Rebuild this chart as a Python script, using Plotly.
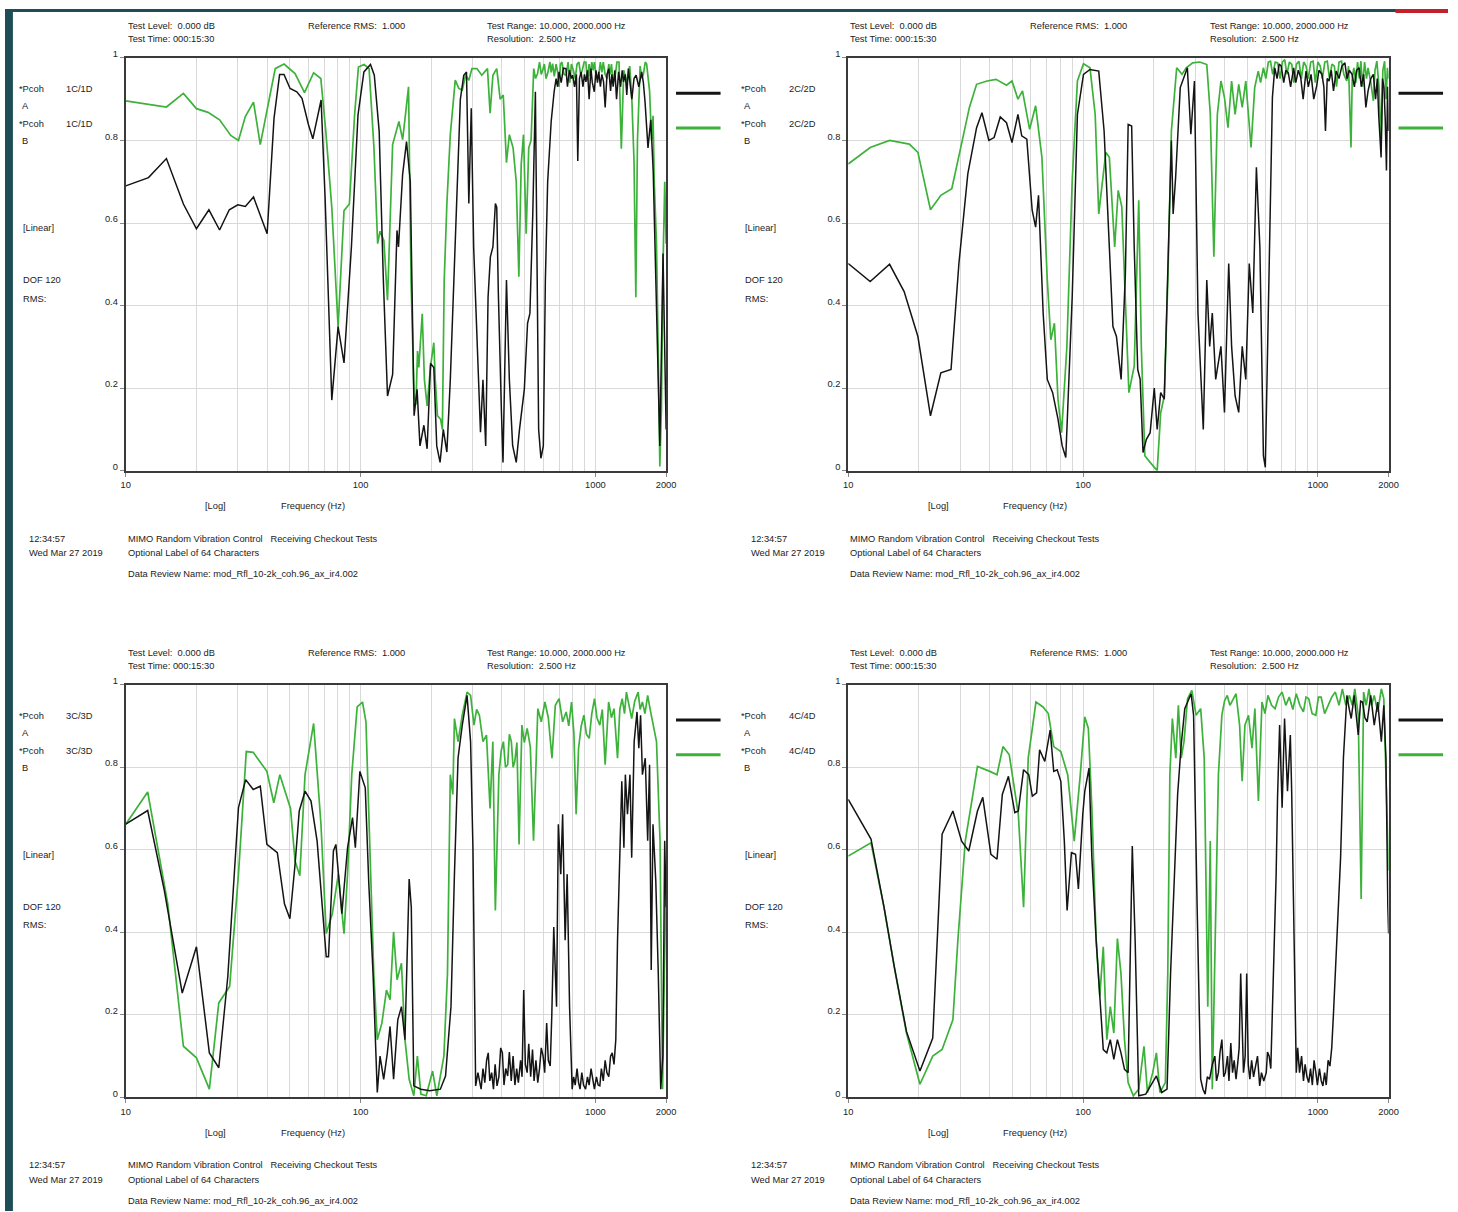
import numpy as np
import plotly.graph_objects as go

W, H = 1458, 1212
FONT = "Liberation Sans, Arial, sans-serif"
FSIZE = 9.3
BLACK = "#141414"
GREEN = "#3db23a"
GRID = "#d9d9d9"

# ---------------- data (frequency Hz, coherence) ----------------
tl_green = [(10,0.896),(14.9,0.881),(17.6,0.914),(20,0.877),(22.4,0.868),(25.1,0.85),(28.0,0.812),(30.2,0.80),
    (32.3,0.858),(35.0,0.893),(37.4,0.79),(40.3,0.882),(43.3,0.974),(47.2,0.985),(52.6,0.962),(57.7,0.916),
    (63.1,0.964),(67.7,0.95),(71.1,0.822),(75.4,0.638),(80.2,0.349),(85.0,0.63),(89.6,0.646),(94.3,0.862),
    (97.9,0.978),(103.5,0.984),(108.7,0.974),(114,0.782),(118.2,0.55),(121,0.58),(125.6,0.558),(130.2,0.413),
    (136.9,0.79),(145.6,0.846),(151,0.802),(154.4,0.85),(160,0.93),(164,0.46),(169,0.18),(172,0.16),(174.8,0.29),
    (177,0.25),(183,0.38),(187,0.22),(192,0.157),(198.6,0.253),(205,0.31),(208,0.22),(212.5,0.133),(219,0.125),
    (223,0.10),(227,0.46),(233,0.646),(241,0.814),(253,0.946),(262,0.926),(271,0.922),(280,0.958),(289,0.946),
    (298,0.974),(313,0.974),(328,0.958),(347,0.974),(356,0.866),(366,0.958),(380,0.974),(393,0.90),(405,0.91),
    (418,0.746),(430,0.814),(446,0.782),(460,0.70),(472,0.47),(483,0.742),(494,0.814),(507,0.574),(520,0.782),
    (532,0.80),(546,0.974),(556,0.95),(567,0.962),(578,0.99),(588,0.96),(596,0.97),(606,0.985),(616,0.95),
    (626,0.962),(640,0.99),(648,0.965),(657,0.986),(668,0.955),(680,0.985),(690,0.966),(700,0.93),(710,0.985),
    (720,0.99),(735,0.96),(750,0.958),(765,0.99),(778,0.94),(790,0.985),(805,0.97),(820,0.95),(835,0.985),
    (850,0.99),(865,0.96),(879,0.97),(895,0.99),(910,0.99),(925,0.945),(940,0.985),(950,0.955),(965,0.99),
    (978,0.97),(990,0.99),(1010,0.95),(1033,0.96),(1050,0.99),(1065,0.965),(1080,0.99),(1100,0.96),(1120,0.95),
    (1140,0.985),(1155,0.96),(1170,0.985),(1190,0.94),(1216,0.96),(1235,0.99),(1260,0.99),(1289,0.78),
    (1320,0.97),(1360,0.94),(1400,0.98),(1429,0.90),(1460,0.75),(1486,0.42),(1510,0.80),(1550,0.98),(1575,0.95),
    (1600,0.96),(1630,0.99),(1652,0.985),(1700,0.92),(1734,0.80),(1760,0.86),(1780,0.70),(1820,0.55),(1850,0.30),
    (1880,0.01),(1910,0.15),(1940,0.50),(1973,0.70),(2000,0.55)]

tl_black = [(10,0.69),(12.5,0.71),(14.9,0.756),(17.6,0.646),(20,0.586),(22.6,0.632),(25.1,0.583),(27.6,0.632),
    (30,0.644),(32.3,0.64),(35.0,0.663),(40,0.574),(42.8,0.854),(45.2,0.96),(47.2,0.96),(50.1,0.926),(53.5,0.918),
    (56.3,0.902),(60,0.838),(62.6,0.804),(67.9,0.898),(70.6,0.662),(75.4,0.171),(80.2,0.349),(85.0,0.261),
    (91.4,0.542),(97.5,0.862),(103.3,0.966),(110.2,0.984),(114.4,0.958),(120,0.822),(125,0.462),(130.2,0.181),
    (136.9,0.233),(142.9,0.582),(145,0.542),(151,0.718),(156.9,0.797),(162.8,0.70),(169,0.133),(174,0.197),
    (179,0.06),(186,0.11),(192,0.053),(198.6,0.26),(205,0.25),(211,0.06),(218,0.02),(225,0.10),(233,0.045),
    (241,0.22),(249,0.46),(258,0.70),(266,0.90),(275,0.958),(282.5,0.966),(289,0.647),(296,0.878),(303,0.542),
    (313,0.30),(324,0.093),(332,0.22),(341,0.06),(349,0.42),(357,0.518),(366,0.542),(375,0.647),(380,0.638),
    (386,0.43),(398,0.14),(404,0.02),(418,0.462),(430,0.221),(444,0.061),(460,0.02),(475,0.10),(498,0.197),
    (514,0.357),(526,0.381),(541,0.622),(555,0.918),(573,0.10),(586,0.03),(600,0.06),(612,0.46),(626,0.70),
    (648,0.846),(667,0.918),(680,0.95),(690,0.93),(700,0.966),(715,0.94),(730,0.975),(749,0.974),(760,0.93),
    (775,0.97),(790,0.95),(800,0.958),(815,0.93),(830,0.96),(841,0.75),(855,0.95),(869,0.966),(885,0.93),
    (898,0.96),(911,0.942),(925,0.97),(940,0.90),(957,0.974),(970,0.94),(989,0.918),(1005,0.97),(1020,0.94),
    (1033,0.966),(1050,0.93),(1065,0.96),(1083,0.942),(1100,0.88),(1120,0.96),(1140,0.974),(1160,0.92),
    (1175,0.96),(1190,0.93),(1210,0.97),(1230,0.90),(1255,0.966),(1280,0.93),(1300,0.97),(1317,0.942),
    (1340,0.96),(1360,0.91),(1381,0.974),(1400,0.94),(1429,0.90),(1460,0.95),(1490,0.958),(1530,0.93),
    (1574,0.966),(1600,0.94),(1626,0.894),(1674,0.782),(1720,0.85),(1762,0.726),(1820,0.381),(1880,0.06),
    (1940,0.526),(1973,0.22),(2000,0.10)]

tr_green = [(10,0.743),(12.4,0.783),(15.0,0.80),(18.2,0.791),(19.8,0.771),(22.4,0.632),(24.8,0.667),(27.6,0.683),
    (30.6,0.80),(32.8,0.88),(35.2,0.936),(39.0,0.944),(42.6,0.948),(47.2,0.934),(49.8,0.944),(52.8,0.90),(55.2,0.92),
    (59.2,0.827),(62.8,0.884),(66.8,0.759),(70.4,0.462),(72.9,0.317),(75.5,0.357),(78.2,0.173),(81,0.092),
    (85.3,0.30),(89.9,0.703),(94.6,0.944),(100.4,0.986),(107,0.976),(112.6,0.863),(116.6,0.622),(125,0.771),
    (129.4,0.759),(136.3,0.542),(141.1,0.679),(146.2,0.639),(151.4,0.398),(156.7,0.189),(165.1,0.253),
    (172.6,0.655),(177,0.30),(183.2,0.036),(193,0.02),(206.8,0.0),(214,0.14),(221.7,0.18),(229.6,0.462),
    (237.7,0.823),(250.4,0.976),(263.7,0.96),(275,0.976),(292.8,0.988),(313.8,0.99),(336.3,0.984),(348.2,0.863),
    (360.5,0.518),(373,0.863),(386.4,0.944),(400,0.904),(414,0.831),(429,0.944),(444,0.863),(460,0.936),
    (476,0.88),(493,0.944),(519,0.783),(538,0.928),(557,0.968),(570,0.94),(586,0.976),(600,0.95),(615,0.99),
    (628,0.992),(642,0.96),(658,0.99),(674,0.988),(690,0.95),(706,0.99),(722,0.996),(738,0.96),(756,0.99),
    (774,0.984),(790,0.94),(810,0.985),(830,0.992),(850,0.95),(870,0.99),(890,0.98),(910,0.95),(932,0.99),
    (954,0.992),(975,0.94),(1000,0.99),(1023,0.98),(1045,0.95),(1070,0.99),(1096,0.992),(1120,0.95),(1148,0.985),
    (1175,0.98),(1200,0.93),(1230,0.99),(1260,0.992),(1290,0.96),(1327,0.944),(1350,0.98),(1383,0.783),(1400,0.95),
    (1422,0.976),(1450,0.94),(1475,0.99),(1500,0.95),(1524,0.992),(1550,0.93),(1580,0.99),(1610,0.95),(1635,0.976),
    (1680,0.94),(1722,0.896),(1750,0.97),(1782,0.992),(1820,0.93),(1858,0.80),(1890,0.97),(1923,0.992),(1950,0.90),
    (1977,0.976),(2000,0.95)]

tr_black = [(10,0.502),(12.4,0.458),(15.0,0.50),(17.3,0.434),(19.8,0.325),(22.4,0.133),(24.8,0.237),(27.4,0.245),
    (29.6,0.502),(32.3,0.719),(35.2,0.831),(37.1,0.867),(39.7,0.80),(41.8,0.807),(44.4,0.857),(47.2,0.843),
    (49.8,0.795),(52.8,0.863),(54.8,0.811),(57.6,0.803),(60.7,0.631),(62.8,0.59),(64.6,0.667),(67.6,0.382),
    (70.4,0.221),(74.2,0.189),(78.2,0.125),(81.5,0.06),(84.4,0.032),(89.9,0.422),(94.6,0.863),(100.4,0.96),
    (107,0.972),(116.6,0.968),(122.9,0.823),(129.4,0.542),(134,0.349),(138.7,0.325),(145.2,0.221),(151.4,0.478),
    (155.6,0.839),(161,0.835),(165.1,0.542),(170.9,0.245),(175,0.221),(180,0.044),(186,0.076),(193,0.092),
    (201,0.20),(206.8,0.10),(214,0.189),(221.7,0.173),(231,0.542),(237.7,0.80),(241.8,0.622),(247.8,0.711),
    (259.3,0.928),(278,0.976),(287.7,0.815),(298,0.944),(308.5,0.382),(325,0.10),(336.3,0.462),(346,0.301),
    (355,0.382),(367,0.221),(386.4,0.301),(400,0.141),(417,0.502),(429,0.301),(444,0.181),(460,0.141),(476,0.301),
    (493,0.221),(510,0.502),(528,0.382),(547,0.735),(566,0.542),(586,0.036),(597,0.008),(607,0.221),(628,0.703),
    (640,0.904),(655,0.976),(670,0.95),(684,0.985),(698,0.98),(715,0.94),(730,0.97),(748,0.964),(765,0.93),
    (788,0.976),(805,0.94),(825,0.97),(845,0.952),(865,0.90),(890,0.968),(910,0.93),(935,0.96),(960,0.90),
    (988,0.932),(1010,0.97),(1040,0.96),(1060,0.93),(1077,0.823),(1095,0.95),(1115,0.944),(1140,0.97),(1165,0.92),
    (1196,0.968),(1230,0.95),(1265,0.98),(1303,0.988),(1330,0.95),(1360,0.97),(1397,0.96),(1430,0.93),(1460,0.97),
    (1498,0.976),(1530,0.93),(1565,0.96),(1600,0.88),(1635,0.92),(1680,0.95),(1722,0.96),(1760,0.90),(1790,0.95),
    (1814,0.863),(1858,0.759),(1885,0.95),(1911,0.928),(1935,0.85),(1958,0.727),(1980,0.93),(2000,0.823)]

bl_green = [(10,0.662),(12.4,0.74),(15.1,0.469),(17.6,0.124),(20,0.096),(22.7,0.02),(24.9,0.229),(27.7,0.269),
    (30.2,0.541),(32.6,0.838),(34.9,0.836),(39.9,0.79),(42.7,0.714),(45.3,0.782),(50.3,0.70),(52.6,0.573),
    (55.1,0.537),(58,0.782),(63.1,0.906),(67.8,0.662),(71.4,0.397),(75.8,0.445),(80.4,0.541),(85,0.397),(88,0.541),
    (91.7,0.782),(96.7,0.946),(101.9,0.958),(105.4,0.91),(109.2,0.622),(113.8,0.30),(117.8,0.14),(123.2,0.18),
    (128.9,0.26),(133.5,0.237),(138.2,0.401),(143,0.285),(149.3,0.325),(154.5,0.14),(161,0.044),(168.5,0.004),
    (174.5,0.10),(180.6,0.008),(190.3,0.004),(202.6,0.064),(211.2,0.004),(218.6,0.052),(226.3,0.10),(234.4,0.30),
    (241,0.782),(247,0.734),(251,0.918),(260,0.862),(271,0.926),(284,0.982),(294,0.974),(304,0.902),(312,0.94),
    (320.5,0.926),(332,0.862),(343.6,0.878),(355.8,0.70),(365.7,0.862),(374.8,0.453),(388,0.782),(397,0.84),
    (405.7,0.862),(414,0.80),(423,0.806),(430,0.88),(438.5,0.862),(446,0.80),(453.6,0.814),(463,0.86),(473,0.613),
    (486.3,0.902),(498,0.86),(512,0.894),(528,0.85),(545,0.622),(568.5,0.942),(588,0.91),(609.5,0.958),(630,0.92),
    (653,0.822),(675,0.95),(700,0.966),(725,0.91),(750.6,0.934),(770,0.90),(791,0.958),(810,0.88),(827.5,0.686),
    (847.6,0.846),(870,0.90),(893,0.926),(915,0.88),(941,0.87),(965,0.93),(991,0.966),(1015,0.92),(1044,0.902),
    (1070,0.94),(1100,0.806),(1138,0.958),(1170,0.92),(1200,0.942),(1242,0.822),(1270,0.94),(1300,0.966),
    (1330,0.93),(1355,0.982),(1390,0.95),(1427,0.918),(1470,0.96),(1520,0.982),(1550,0.94),(1585,0.958),
    (1625,0.93),(1669,0.974),(1710,0.94),(1758,0.902),(1820,0.862),(1884,0.622),(1931,0.02),(1965,0.30),(2000,0.541)]

bl_black = [(10,0.662),(12.4,0.695),(14.6,0.501),(17.4,0.253),(20,0.365),(22.7,0.108),(24.9,0.072),(27.2,0.293),
    (30.2,0.702),(32.4,0.77),(34.9,0.746),(37.4,0.754),(39.9,0.613),(44.2,0.593),(47.4,0.469),(50,0.433),
    (52.6,0.565),(54.8,0.694),(58,0.742),(61.5,0.718),(65.3,0.621),(69.5,0.413),(71.4,0.341),(73,0.341),
    (76.6,0.597),(78.5,0.613),(81.2,0.525),(83.2,0.445),(88,0.605),(92.4,0.678),(95,0.605),(99.3,0.79),
    (104.7,0.75),(108.4,0.517),(113,0.30),(117.8,0.012),(121,0.10),(125.4,0.044),(130,0.108),(133.5,0.172),
    (138.2,0.044),(144,0.188),(149.3,0.22),(154.5,0.14),(161,0.529),(164.4,0.461),(168.5,0.028),(180.6,0.02),
    (197,0.016),(218.6,0.02),(230,0.052),(242.6,0.22),(251,0.541),(260,0.822),(271,0.902),(284,0.974),(294,0.862),
    (300.9,0.605),(309,0.028),(316,0.06),(326,0.02),(332,0.07),(338,0.036),(344,0.09),(349.6,0.108),(355,0.04),
    (361.5,0.06),(368,0.02),(374,0.08),(381,0.028),(388,0.05),(395,0.12),(401.6,0.108),(408,0.03),(415,0.07),
    (423,0.052),(430,0.11),(438,0.04),(446,0.10),(454,0.03),(462,0.07),(469.6,0.036),(480,0.09),(487,0.05),
    (495,0.26),(503,0.08),(512,0.06),(520,0.13),(530,0.05),(539.6,0.116),(548,0.04),(558,0.09),(568,0.036),
    (578,0.07),(588,0.12),(598.6,0.10),(608,0.06),(620,0.18),(630,0.09),(642,0.076),(652,0.20),(664.6,0.413),
    (683,0.22),(695,0.662),(712,0.541),(725,0.686),(743,0.381),(758,0.541),(776,0.22),(796,0.02),(808,0.05),
    (820,0.03),(835,0.07),(847.6,0.036),(860,0.02),(875,0.06),(890,0.03),(908,0.02),(925,0.05),(940,0.03),
    (958,0.07),(974,0.044),(990,0.02),(1010,0.05),(1027,0.03),(1044,0.028),(1060,0.07),(1080,0.04),(1100,0.09),
    (1119,0.06),(1140,0.05),(1160,0.10),(1179,0.108),(1200,0.08),(1221,0.14),(1242,0.381),(1264,0.541),
    (1295,0.766),(1322,0.605),(1341,0.782),(1369,0.686),(1403,0.782),(1427,0.581),(1462,0.862),(1503,0.934),
    (1530,0.846),(1557,0.926),(1585,0.782),(1630,0.822),(1669,0.622),(1700,0.806),(1728,0.309),(1758,0.662),
    (1807,0.525),(1852,0.30),(1897,0.02),(1937,0.10),(1972,0.622),(2000,0.461)]

br_green = [(10,0.585),(12.5,0.617),(14.2,0.461),(15.7,0.317),(17.7,0.156),(20.2,0.032),(22.9,0.10),(25.1,0.116),
    (27.9,0.188),(29.3,0.381),(31.5,0.621),(35.5,0.802),(40.1,0.79),(43,0.782),(45.6,0.85),(48.5,0.83),(53,0.686),
    (55.8,0.461),(58.4,0.822),(63,0.958),(67.5,0.946),(71.1,0.93),(75,0.85),(80.4,0.838),(86,0.782),(91.7,0.621),
    (97.3,0.782),(101.7,0.922),(105.3,0.894),(109,0.702),(113.7,0.381),(117.8,0.245),(121.9,0.365),(126.2,0.14),
    (130.6,0.22),(135.2,0.156),(140,0.385),(145,0.30),(150.1,0.14),(155.5,0.036),(163.7,0.004),(172.6,0.02),
    (181.7,0.124),(188,0.012),(198,0.06),(205.2,0.108),(212.4,0.012),(224,0.036),(229.4,0.30),(234.2,0.782),
    (240,0.918),(248.3,0.822),(254.5,0.95),(261.7,0.822),(269,0.862),(278.6,0.966),(290.4,0.986),(302.8,0.926),
    (316.8,0.942),(328,0.822),(339.6,0.22),(348,0.621),(355,0.02),(364,0.381),(376.9,0.782),(390,0.926),
    (400,0.96),(411,0.974),(422,0.95),(433,0.962),(448,0.978),(464,0.902),(475.6,0.766),(489,0.902),(506.3,0.926),
    (524,0.846),(539,0.942),(558,0.718),(577.8,0.958),(595,0.93),(612.8,0.974),(635,0.95),(656.9,0.942),
    (680,0.97),(704,0.982),(730,0.95),(755,0.97),(782,0.94),(809,0.978),(838,0.95),(867,0.934),(890,0.97),
    (914,0.966),(945,0.93),(980,0.926),(1005,0.97),(1032,0.97),(1068,0.93),(1106,0.95),(1145,0.97),(1186,0.982),
    (1230,0.95),(1271,0.99),(1315,0.95),(1362,0.974),(1400,0.95),(1436,0.99),(1485,0.926),(1528,0.481),
    (1565,0.982),(1605,0.95),(1649,0.99),(1690,0.95),(1737,0.974),(1798,0.934),(1862,0.99),(1908,0.966),
    (1948,0.798),(1985,0.621),(2000,0.55)]

br_black = [(10,0.722),(12.5,0.626),(14.2,0.461),(15.7,0.317),(17.7,0.16),(20.2,0.064),(22.9,0.144),(25.1,0.638),
    (27.9,0.694),(30.4,0.621),(32.6,0.597),(35.5,0.694),(37.4,0.727),(40.5,0.589),(43,0.577),(45.3,0.734),
    (48.1,0.778),(51.2,0.69),(53,0.694),(55.8,0.794),(58.7,0.782),(60.8,0.73),(63.4,0.738),(65.3,0.842),
    (68.7,0.814),(72.4,0.89),(75,0.79),(77.6,0.794),(80.4,0.766),(83.2,0.621),(85.5,0.453),(89.2,0.593),
    (92.9,0.589),(95.5,0.505),(99.7,0.686),(101.7,0.742),(106,0.798),(109,0.581),(113.7,0.381),(118.6,0.22),
    (121.9,0.116),(126.2,0.108),(130.6,0.14),(135.2,0.092),(140,0.14),(145,0.108),(150.1,0.068),(155.5,0.06),
    (162,0.609),(166.6,0.381),(172.6,0.004),(184.9,0.008),(198,0.036),(205.2,0.052),(216.3,0.012),(227.8,0.02),
    (235.8,0.30),(242.5,0.493),(245.8,0.565),(252.7,0.734),(261.7,0.854),(271,0.942),(288.4,0.978),(295.5,0.926),
    (306,0.461),(316.8,0.044),(324,0.02),(331,0.008),(338,0.05),(345.6,0.044),(355,0.08),(364,0.10),(370,0.04),
    (376.9,0.06),(383,0.11),(390,0.14),(397,0.05),(403.6,0.06),(412,0.10),(418,0.04),(425.6,0.132),(433,0.06),
    (440,0.09),(448,0.044),(455,0.08),(462,0.12),(469,0.30),(475.6,0.14),(482,0.06),(490,0.10),(497.5,0.30),
    (505,0.08),(513,0.044),(522,0.09),(532,0.05),(542.6,0.076),(553,0.10),(565,0.028),(575,0.06),(588,0.04),
    (602.6,0.06),(610,0.11),(620,0.10),(630,0.07),(642,0.22),(664,0.541),(673,0.726),(687,0.902),(704,0.702),
    (721,0.918),(742,0.742),(763,0.878),(773,0.742),(790,0.381),(809,0.06),(820,0.12),(835,0.06),(852,0.10),
    (868,0.04),(882,0.08),(898,0.05),(914,0.036),(930,0.07),(947,0.03),(963,0.09),(980,0.06),(995,0.03),
    (1015,0.07),(1033,0.04),(1050,0.028),(1068,0.06),(1085,0.03),(1105,0.09),(1125,0.076),(1145,0.12),
    (1165,0.204),(1206,0.381),(1249,0.581),(1284,0.822),(1329,0.974),(1360,0.94),(1386,0.918),(1427,0.974),
    (1455,0.93),(1485,0.878),(1520,0.96),(1549,0.958),(1585,0.92),(1621,0.91),(1678,0.974),(1737,0.902),
    (1798,0.958),(1862,0.862),(1908,0.95),(1948,0.822),(1985,0.461),(2000,0.397)]

channel_labels = ["1C/1D", "2C/2D", "3C/3D", "4C/4D"]
x_tick_vals = [10, 100, 1000, 2000]
x_tick_text = ["10", "100", "1000", "2000"]
x_minor_vals = [20, 30, 40, 50, 60, 70, 80, 90, 200, 300, 400, 500, 600, 700, 800, 900]
y_tick_vals = [0, 0.2, 0.4, 0.6, 0.8, 1]
y_tick_text = ["0", "0.2", "0.4", "0.6", "0.8", "1"]

# ---------------- layout helpers ----------------
def px(x):
    return x / W

def py(y):
    return 1 - y / H

panels = [
    dict(label=channel_labels[0], black=tl_black, green=tl_green, ox=0, oy=0),
    dict(label=channel_labels[1], black=tr_black, green=tr_green, ox=730, oy=0),
    dict(label=channel_labels[2], black=bl_black, green=bl_green, ox=0, oy=632),
    dict(label=channel_labels[3], black=br_black, green=br_green, ox=730, oy=632),
]

fig = go.Figure()
annotations = []
shapes = []
layout_axes = {}

PLOT_L, PLOT_R, PLOT_T, PLOT_B = 122, 668, 49.3, 465.5

for i, p in enumerate(panels):
    n = i + 1
    xname = "x" if n == 1 else f"x{n}"
    yname = "y" if n == 1 else f"y{n}"
    xkey = "xaxis" if n == 1 else f"xaxis{n}"
    ykey = "yaxis" if n == 1 else f"yaxis{n}"
    ox, oy = p["ox"], p["oy"]

    gf, gv = zip(*p["green"])
    bf, bv = zip(*p["black"])
    fig.add_trace(go.Scatter(x=list(gf), y=list(gv), mode="lines", xaxis=xname, yaxis=yname,
                             line=dict(color=GREEN, width=1.7), showlegend=False, hoverinfo="skip"))
    fig.add_trace(go.Scatter(x=list(bf), y=list(bv), mode="lines", xaxis=xname, yaxis=yname,
                             line=dict(color=BLACK, width=1.5), showlegend=False, hoverinfo="skip"))

    layout_axes[xkey] = dict(
        domain=[px(PLOT_L + ox), px(PLOT_R + ox)], anchor=yname, type="log",
        range=[1, np.log10(2000)], tickvals=x_tick_vals, ticktext=x_tick_text,
        showgrid=True, gridcolor=GRID, gridwidth=1,
        minor=dict(tickvals=x_minor_vals, showgrid=True, gridcolor=GRID, gridwidth=1, ticks=""),
        showline=True, linecolor="#3a3a3a", linewidth=2, mirror=True,
        ticks="outside", ticklen=4, tickcolor="#888", tickwidth=1,
        tickfont=dict(family=FONT, size=FSIZE, color="#222"), zeroline=False, fixedrange=True,
    )
    layout_axes[ykey] = dict(
        domain=[py(PLOT_B + oy), py(PLOT_T + oy)], anchor=xname,
        range=[0, 1], tickvals=y_tick_vals, ticktext=y_tick_text,
        showgrid=True, gridcolor=GRID, gridwidth=1,
        showline=True, linecolor="#3a3a3a", linewidth=2, mirror=True,
        ticks="outside", ticklen=4, tickcolor="#888", tickwidth=1, ticklabelshift=-4,
        tickfont=dict(family=FONT, size=FSIZE, color="#222"), zeroline=False, fixedrange=True,
    )

    texts = [
        (122, 17, "Test Level:  0.000 dB", "left"),
        (122, 30, "Test Time: 000:15:30", "left"),
        (304, 17, "Reference RMS:  1.000", "left"),
        (485, 17, "Test Range: 10.000, 2000.000 Hz", "left"),
        (485, 30, "Resolution:  2.500 Hz", "left"),
        (12, 81, "*Pcoh", "left"),
        (60, 81, p["label"], "left"),
        (15, 98, "A", "left"),
        (12, 116, "*Pcoh", "left"),
        (60, 116, p["label"], "left"),
        (15, 133, "B", "left"),
        (16, 221, "[Linear]", "left"),
        (16, 273, "DOF 120", "left"),
        (16, 292, "RMS:", "left"),
        (213, 501, "[Log]", "center"),
        (311, 501, "Frequency (Hz)", "center"),
        (22, 534, "12:34:57", "left"),
        (22, 549, "Wed Mar 27 2019", "left"),
        (122, 534, "MIMO Random Vibration Control   Receiving Checkout Tests", "left"),
        (122, 549, "Optional Label of 64 Characters", "left"),
        (122, 570, "Data Review Name: mod_Rfl_10-2k_coh.96_ax_ir4.002", "left"),
    ]
    for (tx, ty, t, anc) in texts:
        annotations.append(dict(x=px(tx + ox), y=py(ty + oy), xref="paper", yref="paper", text=t,
                                showarrow=False, xanchor=anc, yanchor="middle",
                                font=dict(family=FONT, size=FSIZE, color="#222")))
    # legend line samples
    shapes.append(dict(type="line", xref="paper", yref="paper", x0=px(678 + ox), x1=px(723 + ox),
                       y0=py(85 + oy), y1=py(85 + oy), line=dict(color=BLACK, width=3)))
    shapes.append(dict(type="line", xref="paper", yref="paper", x0=px(678 + ox), x1=px(723 + ox),
                       y0=py(120 + oy), y1=py(120 + oy), line=dict(color=GREEN, width=3)))

# slide decoration: teal strips and red corner
shapes.append(dict(type="rect", xref="paper", yref="paper", x0=0, x1=px(8), y0=0, y1=1,
                   line=dict(width=0), fillcolor="#1e4d58", layer="above"))
shapes.append(dict(type="rect", xref="paper", yref="paper", x0=0, x1=1, y0=py(3), y1=1,
                   line=dict(width=0), fillcolor="#1e4d58", layer="above"))
shapes.append(dict(type="rect", xref="paper", yref="paper", x0=px(1405), x1=1, y0=py(4), y1=1,
                   line=dict(width=0), fillcolor="#c4202b", layer="above"))

fig.update_layout(
    width=W, height=H, margin=dict(l=0, r=0, t=0, b=0),
    paper_bgcolor="white", plot_bgcolor="white",
    annotations=annotations, shapes=shapes, showlegend=False,
    font=dict(family=FONT, size=FSIZE, color="#222"),
    **layout_axes,
)

fig.write_html("out.html")
